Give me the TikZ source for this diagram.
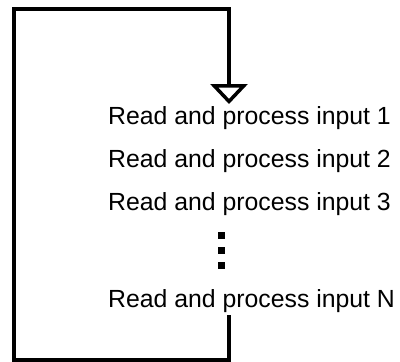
\documentclass[tikz,border=0pt]{standalone}
\usepackage{fontspec}
\setmainfont{Liberation Sans}
\usetikzlibrary{arrows.meta}
\begin{document}
\begin{tikzpicture}[x=1pt,y=-1pt,
  lbl/.style={anchor=base west,inner sep=0pt,font=\fontsize{24.8}{28}\selectfont},
  loop/.style={line width=4pt,line cap=butt,line join=miter},
  dotsq/.style={fill=black,minimum size=7pt,inner sep=0pt}]
\useasboundingbox (0,0) rectangle (400,362);
\node[lbl] (l1) at (108,124) {Read and process input 1};
\node[lbl] (l2) at (108,167) {Read and process input 2};
\node[lbl] (l3) at (108,210) {Read and process input 3};
\node[lbl] (ln) at (108,307) {Read and process input N};
\node[dotsq] (d1) at (221,235.5) {};
\node[dotsq] (d2) at (221,250) {};
\node[dotsq] (d3) at (221,265) {};
\coordinate (out) at (229,315);
\coordinate (in) at (229,104);
\draw[loop,-{Triangle[open,length=20pt,width=37pt,line width=3.5pt]}]
  (out) -- (229,359.5) -| (14,9) -| (in);
\end{tikzpicture}
\end{document}
